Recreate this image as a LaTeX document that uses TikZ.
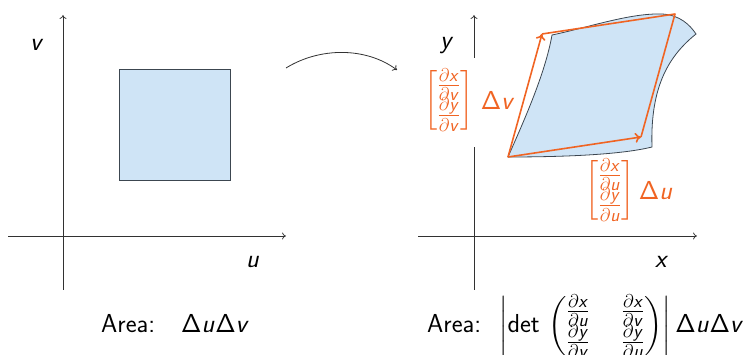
\documentclass[tikz,border=0pt]{standalone}
\usepackage{fix-cm}
\usepackage{amsmath}
\usetikzlibrary{arrows.meta}
\DeclareSymbolFont{operators}{OT1}{cmss}{m}{n}
\DeclareMathAlphabet{\mathsfit}{OT1}{cmss}{m}{sl}
\DeclareMathSizes{26}{26}{18.5}{13}
\newcommand{\sv}[1]{\mathsfit{#1}}
\definecolor{jorange}{RGB}{240,100,35}
\definecolor{jblue}{RGB}{207,228,246}
\definecolor{jedge}{RGB}{60,70,80}
\definecolor{jaxis}{RGB}{50,50,50}
\tikzset{
  axisline/.style={draw=jaxis, line width=0.7pt},
  axisarrow/.style={axisline, -{To[length=4pt,width=7pt]}},
  region/.style={draw=jedge, fill=jblue, line width=0.8pt},
  oline/.style={draw=jorange, line width=1.6pt, line join=round},
  oarrow/.style={oline, -{To[length=6pt,width=10pt]}},
  lbl/.style={font=\sffamily\fontsize{26}{31}\selectfont, inner sep=0pt},
  olbl/.style={lbl, text=jorange},
}
\begin{document}
\begin{tikzpicture}[x=1pt,y=-1pt]
\useasboundingbox (0,0) rectangle (748,355);
% left axes
\coordinate (lxs) at (8,236); \coordinate (lxe) at (286,236);
\coordinate (lys) at (63,290); \coordinate (lye) at (63,15);
\draw[axisarrow] (lxs) -- (lxe);
\draw[axisarrow] (lys) -- (lye);
\node[lbl] (lv) at (37,45) {$\sv v$};
\node[lbl] (lu) at (253,262) {$\sv u$};
\node[region, minimum width=111pt, minimum height=111pt, inner sep=0pt] (sq) at (174.5,124.5) {};
% curved arrow
\coordinate (ca) at (286,68); \coordinate (cb) at (397,70);
\draw[axisarrow, line width=0.8pt] (ca) .. controls (320,47) and (366,47) .. (cb);
% right axes
\coordinate (rxs) at (418,236); \coordinate (rxe) at (697,236);
\coordinate (rys) at (474,290); \coordinate (ryg) at (474,147);
\coordinate (ryh) at (474,58); \coordinate (rye) at (474,15);
\draw[axisarrow] (rxs) -- (rxe);
\draw[axisline] (rys) -- (ryg);
\draw[axisarrow] (ryh) -- (rye);
\node[lbl] (ry) at (447,45) {$\sv y$};
\node[lbl] (rx) at (662,262) {$\sv x$};
% transformed region
\draw[region] (508,157) .. controls (522,125) and (545,75) .. (552,35)
  .. controls (590,27) and (630,13) .. (662,14)
  .. controls (680,15) and (690,25) .. (696,34)
  .. controls (670,55) and (650,85) .. (652,147)
  .. controls (620,155) and (560,157) .. cycle;
% orange parallelogram
\coordinate (o) at (508,157); \coordinate (a) at (542,34);
\coordinate (b) at (641,137); \coordinate (c) at (675,14);
\draw[oline] (a) -- (c) -- (b);
\draw[oarrow] (o) -- (a);
\draw[oarrow] (o) -- (b);
% orange labels
\node[olbl] (lvm) at (449,100) {$\begin{bmatrix}\frac{\partial \sv x}{\partial \sv v}\\[-3pt]\frac{\partial \sv y}{\partial \sv v}\end{bmatrix}$};
\node[olbl] (ldv) at (498,100) {$\Delta \sv v$};
\node[olbl] (lbm) at (610,190) {$\begin{bmatrix}\frac{\partial \sv x}{\partial \sv u}\\[-3pt]\frac{\partial \sv y}{\partial \sv u}\end{bmatrix}$};
\node[olbl] (ldu) at (656,190) {$\Delta \sv u$};
% bottom formulas
\node[lbl, anchor=base west] (la) at (101,333) {Area:\quad$\Delta\sv u\Delta\sv v$};
\node[lbl, anchor=base west] (ra) at (427,333) {Area:\; $\left|\det\,\setlength{\arraycolsep}{16pt}\begin{pmatrix}\frac{\partial \sv x}{\partial \sv u} & \frac{\partial \sv x}{\partial \sv v}\\[-3pt] \frac{\partial \sv y}{\partial \sv v} & \frac{\partial \sv y}{\partial \sv u}\end{pmatrix}\right|\Delta\sv u\Delta\sv v$};
\end{tikzpicture}
\end{document}
